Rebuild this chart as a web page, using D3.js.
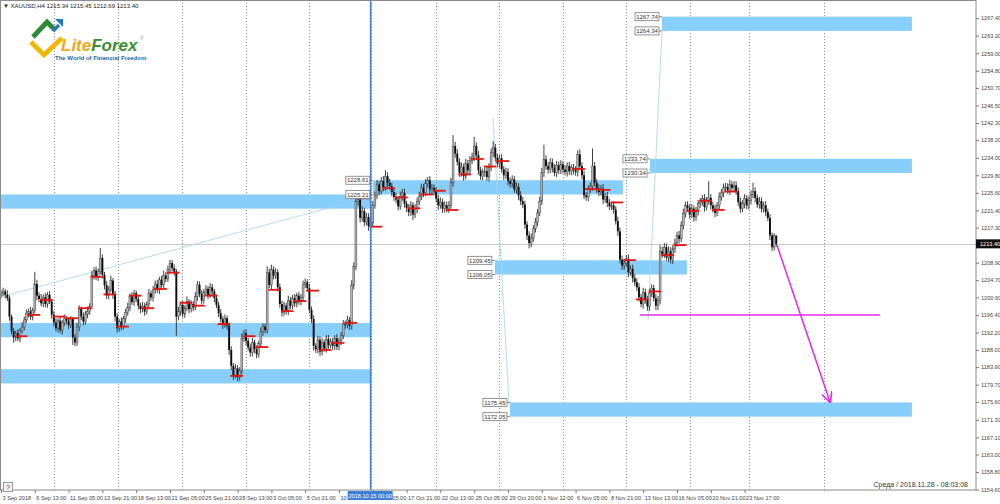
<!DOCTYPE html>
<html><head><meta charset="utf-8">
<script src="https://cdn.jsdelivr.net/npm/d3@7"></script>
<style>body{margin:0;background:#fff;overflow:hidden}svg{display:block;font-family:"Liberation Sans",Arial,sans-serif}</style>
</head><body><svg id="c" width="1000" height="504"></svg>
<script>
// ---------- DATA ----------
const firstOpen = 1201.0;
const closes = [
1201.5,
1202.0,1201.2,1200.4,1196.0,1192.5,1191.0,
1192.0,1190.8,1192.6,1193.5,1195.2,1196.8,
1197.2,1196.0,1197.5,1203.8,1201.0,1200.2,
1199.2,1200.6,1199.0,1201.2,1199.6,1196.5,
1194.6,1193.2,1195.0,1192.8,1194.5,1195.6,
1195.0,1194.0,1195.4,1191.0,1189.8,1193.5,
1197.8,1196.0,1194.8,1196.6,1197.2,1198.4,
1205.8,1207.0,1205.5,1206.8,1210.0,1206.0,
1203.5,1201.0,1202.5,1204.6,1201.2,1196.0,
1193.2,1194.8,1193.6,1195.5,1197.0,1198.2,
1200.8,1199.5,1201.6,1200.2,1198.6,1197.8,
1198.5,1197.2,1199.0,1201.5,1200.6,1202.4,
1203.8,1202.4,1204.8,1203.6,1205.8,1205.0,
1207.2,1208.8,1207.6,1206.8,1196.0,1197.2,
1198.8,1196.6,1198.0,1199.6,1197.8,1199.0,
1198.2,1200.8,1203.6,1201.4,1199.8,1201.8,
1202.6,1201.2,1203.0,1202.0,1200.4,1198.8,
1196.8,1195.4,1194.0,1195.6,1193.8,1188.0,
1184.2,1182.0,1183.6,1181.5,1183.0,1190.8,
1192.0,1190.2,1188.6,1187.4,1189.8,1188.2,
1187.0,1189.5,1192.4,1193.6,1192.8,1206.5,
1203.6,1207.2,1205.8,1206.6,1203.0,1199.0,
1197.0,1198.6,1197.4,1199.8,1198.6,1200.4,
1199.2,1201.0,1199.6,1200.6,1203.6,1204.2,
1202.8,1197.6,1195.4,1189.0,1188.2,1190.4,
1187.6,1189.8,1188.4,1190.6,1189.2,1190.0,
1189.0,1190.8,1188.8,1190.2,1191.4,1194.2,
1194.0,1195.2,1193.8,1203.5,1208.0,1223.5,
1224.0,1219.6,1221.2,1218.6,1219.8,1217.6,
1218.4,1222.6,1225.0,1227.6,1226.0,1228.4,
1227.0,1229.6,1228.0,1227.2,1225.8,1224.6,
1224.0,1222.4,1224.8,1225.6,1223.0,1222.0,
1221.0,1222.6,1220.4,1221.8,1223.6,1224.8,
1226.8,1225.6,1227.8,1228.6,1226.4,1226.8,
1226.0,1224.2,1222.6,1223.4,1221.8,1222.6,
1221.8,1222.6,1228.0,1236.8,1235.0,1233.0,
1230.4,1231.8,1229.6,1232.6,1231.0,1233.4,
1234.2,1236.8,1234.6,1231.0,1229.6,1230.4,
1230.8,1229.4,1231.6,1235.2,1236.4,1234.0,
1232.6,1233.8,1231.2,1229.8,1230.6,1228.4,
1227.8,1228.8,1226.4,1227.0,1225.0,1223.6,
1222.8,1218.0,1215.4,1213.6,1214.8,1217.0,
1218.6,1220.8,1223.6,1230.4,1233.6,1232.0,
1231.2,1232.8,1231.6,1230.4,1232.2,1231.0,
1232.4,1231.2,1230.6,1232.0,1230.8,1231.6,
1231.0,1230.6,1234.8,1232.0,1229.8,1225.0,
1224.6,1226.4,1227.2,1232.0,1228.0,1226.6,
1225.8,1226.6,1224.0,1224.8,1223.2,1222.4,
1222.6,1221.6,1218.8,1216.4,1209.6,1208.2,
1208.8,1209.8,1206.6,1207.4,1205.2,1204.2,
1203.0,1200.6,1199.0,1201.8,1200.0,1198.4,
1201.6,1202.8,1200.4,1198.6,1199.8,1211.6,
1211.0,1212.6,1210.2,1211.6,1209.6,1212.2,
1213.6,1215.4,1214.6,1217.8,1220.6,1222.6,
1222.0,1220.4,1221.8,1219.8,1221.2,1223.0,
1223.4,1224.2,1222.2,1223.8,1224.4,1222.6,
1221.8,1220.8,1222.6,1224.6,1225.6,1226.8,
1227.0,1226.2,1227.6,1226.8,1227.4,1226.0,
1223.4,1221.8,1223.0,1224.2,1222.6,1223.8,
1225.2,1226.0,1224.4,1222.8,1223.6,1221.8,
1222.6,1221.0,1219.6,1215.4,1212.6,1215.34,
1213.40
];
const upW = [
0.8,
0.9,0.6,1.1,0.7,0.5,0.8, 0.6,1.0,0.7,1.2,0.8,0.9, 0.7,1.1,0.6,2.9,1.0,0.8, 1.2,0.7,1.0,0.6,0.9,0.5,
0.8,1.0,0.6,1.1,0.7,0.9, 0.6,0.9,0.7,0.5,0.8,1.0, 0.9,0.6,1.0,0.7,1.2,0.8, 1.1,0.8,1.0,0.7,2.4,0.9,
0.7,1.0,0.8,1.2,0.6,0.9, 0.8,0.6,1.0,0.7,0.9,1.1, 0.7,1.0,0.8,0.6,0.9,0.7, 1.0,0.8,0.6,1.1,0.7,0.9,
0.8,1.0,0.7,0.9,1.2,0.8, 1.0,0.8,0.7,0.9,0.6,1.1, 0.8,1.0,0.7,1.2,0.6,0.9, 0.7,1.1,0.9,0.8,1.0,0.7,
0.9,0.7,1.0,0.8,0.6,0.9, 0.8,1.0,0.7,0.9,0.6,0.8, 0.9,0.7,1.0,0.8,0.9,1.2, 0.8,1.0,0.7,0.9,1.1,0.6,
0.9,0.7,1.0,0.8,0.7,1.5, 1.0,1.2,0.8,1.0,0.7,0.9, 0.8,1.0,0.7,1.2,0.9,0.8, 1.0,0.7,0.9,0.8,1.0,0.9,
0.7,1.0,0.8,0.9,0.6,1.0, 0.8,1.1,0.7,0.9,1.0,0.8, 0.9,0.7,1.0,0.8,0.9,1.0, 0.8,1.0,0.7,1.2,1.0,1.8,
1.2,0.9,1.1,0.8,1.0,0.9, 0.8,1.0,0.9,1.1,0.8,1.0, 1.2,1.4,0.9,1.0,0.8,0.9, 1.0,0.8,1.1,0.9,1.0,0.7,
0.9,1.0,0.8,1.1,0.9,1.0, 1.0,0.9,1.1,0.8,1.0,0.9, 0.8,1.0,0.9,1.1,0.8,1.0, 0.9,1.0,1.2,2.6,1.0,1.1,
0.9,1.0,0.8,1.1,0.9,1.0, 1.0,2.2,0.9,1.0,0.8,1.0, 0.9,1.0,1.1,1.0,1.6,0.9, 1.0,0.9,1.1,0.8,1.0,0.9,
0.9,1.0,0.8,1.1,0.9,1.0, 1.0,0.9,0.8,1.0,1.1,0.9, 1.0,0.9,1.1,1.2,3.5,1.0, 0.9,1.1,1.0,0.8,1.0,0.9,
1.0,0.8,1.1,0.9,1.0,0.8, 0.9,1.0,1.0,1.2,0.9,1.0, 0.8,1.0,0.9,4.2,1.0,0.9, 1.0,0.9,1.1,0.8,1.0,0.9,
0.9,1.0,0.8,1.1,0.9,1.0, 1.0,0.9,1.1,0.8,1.0,0.9, 0.9,1.0,0.8,1.1,0.9,1.0, 1.0,0.9,0.8,1.0,1.1,1.5,
1.1,1.0,0.9,1.2,1.0,0.9, 1.0,0.9,1.1,1.0,1.2,0.9, 1.0,0.9,1.1,0.8,1.0,0.9, 1.0,0.9,1.1,0.8,4.0,0.9,
0.9,1.0,0.8,1.1,0.9,1.0, 1.0,0.9,1.1,0.8,1.0,0.9, 0.9,1.0,0.8,1.1,0.9,1.0, 1.0,2.0,0.9,0.8,1.0,0.9,
0.9,1.0,0.8,0.9,0.7,0.6,
0.11
];
const dnW = [
0.7,
0.6,0.9,0.7,1.0,0.8,1.3, 0.9,0.7,1.0,0.6,0.8,0.7, 1.0,0.8,0.9,0.7,1.1,0.8, 0.7,1.0,0.8,0.9,0.6,1.0,
0.9,0.7,1.0,0.8,1.1,0.7, 0.8,1.0,0.7,1.8,0.9,0.8, 1.0,0.8,0.9,0.7,1.0,0.8, 0.7,0.9,0.8,1.0,0.7,0.9,
1.0,0.8,0.9,0.7,1.0,1.2, 1.0,0.8,0.9,0.7,1.0,0.8, 0.9,0.7,1.0,0.8,0.9,1.0, 0.8,1.0,0.7,0.9,0.8,1.0,
0.9,0.8,1.0,0.7,0.9,0.8, 0.7,0.9,0.8,1.0,4.6,0.9, 1.0,0.8,0.9,0.7,1.0,0.8, 0.9,0.7,1.0,0.8,0.9,0.7,
0.8,1.0,0.7,0.9,1.0,0.8, 0.9,0.8,1.0,0.7,0.9,1.2, 1.0,1.2,0.8,1.0,0.9,0.8, 0.9,1.1,0.8,1.0,0.9,1.0,
1.0,0.8,0.9,1.0,0.8,0.9, 0.8,1.0,0.9,0.8,1.0,0.9, 1.0,0.8,0.9,1.0,0.8,0.9, 0.9,1.0,0.8,0.9,1.0,0.8,
0.9,0.8,1.0,1.1,0.9,1.0, 1.0,0.9,0.8,1.0,0.9,0.8, 0.9,1.0,0.8,0.9,1.0,0.8, 0.9,0.8,1.0,0.9,1.0,0.9,
1.0,1.1,0.9,1.0,0.8,1.1, 0.9,1.0,0.8,0.9,1.0,0.8, 1.0,0.9,1.1,0.8,1.0,0.9, 0.9,1.0,0.8,1.1,0.9,1.0,
1.0,0.9,1.3,0.8,1.0,0.9, 0.9,1.0,0.8,0.9,1.1,1.0, 1.0,0.9,1.1,0.8,1.0,0.9, 0.9,1.0,0.8,0.9,1.0,0.8,
1.0,0.9,1.1,0.8,1.0,0.9, 0.9,1.0,0.8,1.1,0.9,1.0, 1.0,0.9,1.1,0.8,1.0,0.9, 0.9,1.0,0.8,1.1,0.9,1.0,
1.0,0.9,0.8,1.0,1.1,0.9, 0.9,1.0,1.1,1.3,1.0,0.9, 0.9,1.0,0.8,0.9,1.0,0.9, 1.0,0.9,1.1,0.8,1.0,0.9,
0.9,1.0,0.8,1.1,0.9,1.0, 1.0,0.9,1.1,0.8,1.0,0.9, 0.9,1.0,0.8,1.1,0.9,1.0, 1.0,0.9,1.1,0.8,1.0,0.9,
0.9,1.0,0.8,1.1,0.9,1.0, 1.0,0.9,1.2,0.8,1.0,0.9, 0.9,1.0,0.8,1.1,0.9,1.0, 1.0,0.9,0.8,1.0,1.1,0.9,
0.9,1.0,0.8,1.1,0.9,1.0, 1.0,0.9,1.1,0.8,1.0,0.9, 0.9,1.0,0.8,1.1,0.9,1.0, 1.0,0.9,1.1,0.8,1.0,0.9,
0.9,1.0,0.8,1.1,0.9,1.0, 1.0,0.9,1.1,0.8,1.0,0.9, 0.9,1.0,0.8,1.1,0.9,1.0, 1.0,0.9,1.1,0.8,1.0,0.9,
0.9,1.0,0.8,1.1,0.9,0.8,
0.71
];
// daily red level marks (day number -> level)
const pivotDays = [1,2,3,4,5,6,7,8,9,10,11,12,13,14,15,16,17,18,19,20,21,22,23,24,25,26,27,28,29,30,31,32,33,34,35,36,37,38,39,45,46,47,48,49,50,51,52,53,54,55,56,57];
const pivotLevels = [1191.3,1196.4,1200.0,1196.0,1195.6,1198.0,1205.5,1201.3,1193.6,1201.0,1198.0,1202.6,1206.5,1199.3,1198.6,1201.0,1194.2,1181.8,1191.3,1188.7,1202.4,1197.3,1199.7,1202.2,1188.0,1189.7,1194.5,1224.3,1217.5,1226.7,1224.5,1221.9,1225.2,1226.1,1221.5,1230.0,1233.7,1231.9,1233.2,1231.3,1226.5,1226.3,1223.3,1209.5,1200.1,1202.0,1210.7,1213.1,1221.3,1223.7,1221.5,1225.9];
// supply / demand zones
const zoneTop    = [1225.21,1228.61,1209.45,1194.45,1183.40,1175.45,1233.74,1267.74];
const zoneBottom = [1221.81,1225.21,1206.05,1191.05,1180.00,1172.05,1230.34,1264.34];
const zoneFrom   = [-2,176,233.8,-2,-2,240.9,307.2,312.9];
const zoneTo     = [175,294.4,324.7,175,175,431.2,431.2,431.2];
const zoneLabeled= [false,true,true,false,false,true,true,true];
// price axis
const priceTicks = [1267.40,1263.20,1259.00,1254.80,1250.70,1246.50,1242.30,1238.20,1234.00,1229.80,1225.60,1221.40,1217.30,1208.90,1204.70,1200.60,1196.40,1192.20,1188.00,1183.90,1179.70,1175.60,1171.30,1167.10,1163.00,1158.80,1154.60];
// time axis
const timeTickBars = [0,16,32,48,64,80,96,112,128,144,160,176,192,208,224,240,256,272,288,304,320,336,352];
const timeLabels = ["3 Sep 2018","6 Sep 13:00","11 Sep 05:00","13 Sep 21:00","18 Sep 13:00","21 Sep 05:00","25 Sep 21:00","28 Sep 13:00","3 Oct 05:00","5 Oct 21:00","10 Oct 13:00","15 Oct 05:00","17 Oct 21:00","22 Oct 13:00","25 Oct 05:00","29 Oct 20:00","1 Nov 12:00","6 Nov 05:00","8 Nov 21:00","13 Nov 13:00","16 Nov 05:00","20 Nov 21:00","23 Nov 17:00"];
const gridBars = [25.2,55.5,85.5,115.8,146,175.2,205.8,235.9,265.9,295.9,326.2,354.2,389.6];
// thin trend lines [bar, price] pairs
const trendFromBar = [0, 232.9, 306.3];
const trendFromPrice = [1200.7, 1243.5, 1195.2];
const trendToBar = [163.8, 240.5, 312.9];
const trendToPrice = [1223.2, 1175.3, 1264.3];
const vlineBar = 175;
const vlineLabel = "2018.10.15 00:00";
const targetLevel = 1196.4, targetFromBar = 302.5, targetToBar = 416;
const arrowFrom = [367.3, 1213.1], arrowTo = [392.4, 1175.6];
const lastPrice = 1213.40;
const header = "\u25BC XAUUSD,H4  1215.34 1215.45 1212.69 1213.40";
const footer = "\u0421\u0440\u0435\u0434\u0430 / 2018.11.28 - 08:03:08";

// ---------- CHART ----------
const svg = d3.select("#c");
const R = 976, B = 490;
const x = d3.scaleLinear().domain([0, 460]).range([1, 1 + 460 * 2.1125]);
const y = d3.scaleLinear().domain([1154.507, 1271.732]).range([B, 0]);

const defs = svg.append("defs");
defs.append("clipPath").attr("id","clip").append("rect").attr("x",0).attr("y",0).attr("width",R).attr("height",B);
defs.append("marker").attr("id","arr").attr("viewBox","0 0 10 10").attr("refX",9).attr("refY",5)
  .attr("markerWidth",7).attr("markerHeight",7).attr("orient","auto")
  .append("path").attr("d","M0,0 L10,5 L0,10").attr("fill","none").attr("stroke","#e629e6").attr("stroke-width",1.6);

const g = svg.append("g").attr("clip-path","url(#clip)");

// grid
g.selectAll(".grid").data(gridBars).join("line")
  .attr("x1",d=>Math.round(x(d))+0.5).attr("x2",d=>Math.round(x(d))+0.5).attr("y1",0).attr("y2",B)
  .attr("stroke","#8c8c8c").attr("stroke-width",1).attr("stroke-dasharray","1,2");

// zones
g.selectAll(".zone").data(zoneTop.map((t,i)=>i)).join("rect")
  .attr("x",i=>x(zoneFrom[i])).attr("width",i=>x(zoneTo[i])-x(zoneFrom[i]))
  .attr("y",i=>y(zoneTop[i])).attr("height",i=>y(zoneBottom[i])-y(zoneTop[i]))
  .attr("fill","#87cefa");

// current price line
g.append("line").attr("x1",0).attr("x2",R).attr("y1",Math.round(y(lastPrice))+0.5).attr("y2",Math.round(y(lastPrice))+0.5)
  .attr("stroke","#c8c8c8").attr("stroke-width",1);

// trend lines
g.selectAll(".tr").data(trendFromBar.map((d,i)=>i)).join("line")
  .attr("x1",i=>x(trendFromBar[i])).attr("y1",i=>y(trendFromPrice[i]))
  .attr("x2",i=>x(trendToBar[i])).attr("y2",i=>y(trendToPrice[i]))
  .attr("stroke","#9fd4f2").attr("stroke-width",0.8);

// candles
const bars = closes.map((c,i)=>{const o = i ? closes[i-1] : firstOpen;
  return {i,o,c,h:Math.max(o,c)+upW[i],l:Math.min(o,c)-dnW[i]};});
g.selectAll(".wick").data(bars).join("line")
  .attr("x1",d=>x(d.i)).attr("x2",d=>x(d.i)).attr("y1",d=>y(d.h)).attr("y2",d=>y(d.l))
  .attr("stroke","#2a2a2a").attr("stroke-width",0.9);
g.selectAll(".body").data(bars).join("rect")
  .attr("x",d=>x(d.i)-0.95).attr("width",1.9)
  .attr("y",d=>y(Math.max(d.o,d.c))).attr("height",d=>Math.max(0.8,Math.abs(y(d.o)-y(d.c))))
  .attr("fill",d=>d.c>=d.o?"#b4b4b4":"#0d0d0d").attr("stroke",d=>d.c>=d.o?"#3c3c3c":"none").attr("stroke-width",0.45);

// daily red marks
g.selectAll(".piv").data(pivotDays.map((d,i)=>i)).join("line")
  .attr("x1",i=>x(pivotDays[i]*6+1)-1).attr("x2",i=>x(pivotDays[i]*6+7)-1)
  .attr("y1",i=>y(pivotLevels[i])).attr("y2",i=>y(pivotLevels[i]))
  .attr("stroke","#e8130c").attr("stroke-width",1.8);

// vertical line
g.append("line").attr("x1",x(vlineBar)).attr("x2",x(vlineBar)).attr("y1",0).attr("y2",B)
  .attr("stroke","#3f82d6").attr("stroke-width",1.6);

// magenta target
g.append("line").attr("x1",x(targetFromBar)).attr("x2",x(targetToBar)).attr("y1",y(targetLevel)).attr("y2",y(targetLevel))
  .attr("stroke","#e629e6").attr("stroke-width",1.5);
g.append("line").attr("x1",x(arrowFrom[0])).attr("y1",y(arrowFrom[1])).attr("x2",x(arrowTo[0])).attr("y2",y(arrowTo[1]))
  .attr("stroke","#e629e6").attr("stroke-width",1.5).attr("marker-end","url(#arr)");

// zone price labels
const labs = [];
zoneTop.forEach((t,i)=>{ if(zoneLabeled[i]){ labs.push({z:i,p:t}); labs.push({z:i,p:zoneBottom[i]}); }});
const lg = svg.append("g").selectAll("g").data(labs).join("g")
  .attr("transform",d=>`translate(${x(zoneFrom[d.z])-27},${y(d.p)})`);
lg.append("line").attr("x1",24).attr("x2",27).attr("y1",0).attr("y2",0).attr("stroke","#666").attr("stroke-width",0.8);
lg.append("rect").attr("x",0).attr("y",-4).attr("width",24).attr("height",8).attr("fill","#fff").attr("stroke","#7a7a7a").attr("stroke-width",0.8);
lg.append("text").attr("x",12).attr("y",2.2).attr("text-anchor","middle").attr("font-size",6).attr("fill","#333").text(d=>d.p.toFixed(2));

// frame
svg.append("rect").attr("x",0.5).attr("y",0.5).attr("width",R-0.5).attr("height",B-0.5).attr("fill","none").attr("stroke","#8a8a8a").attr("stroke-width",1);

// price axis
const ya = svg.append("g").attr("transform",`translate(${R},0)`)
  .call(d3.axisRight(y).tickValues(priceTicks).tickSize(3).tickPadding(2).tickFormat(d3.format(".2f")));
ya.select(".domain").remove();
ya.selectAll("line").attr("stroke","#777");
ya.selectAll("text").attr("font-size",5.6).attr("fill","#444").attr("font-family","Liberation Sans, Arial, sans-serif");
const pb = svg.append("g").attr("transform",`translate(${R},${y(lastPrice)})`);
pb.append("rect").attr("x",0).attr("y",-4.5).attr("width",24).attr("height",9).attr("fill","#111");
pb.append("text").attr("x",4).attr("y",2.1).attr("font-size",5.6).attr("fill","#fff").text(lastPrice.toFixed(2));

// time axis
const xa = svg.append("g").attr("transform",`translate(0,${B})`)
  .call(d3.axisBottom(x).tickValues(timeTickBars).tickSize(3).tickPadding(3).tickFormat((d,i)=>timeLabels[i]));
xa.select(".domain").remove();
xa.selectAll("line").attr("stroke","#777");
xa.selectAll("text").attr("text-anchor","start").attr("dx",1).attr("font-size",5.6).attr("fill","#444").attr("font-family","Liberation Sans, Arial, sans-serif");
const vb = svg.append("g").attr("transform",`translate(${x(vlineBar)},${B+1})`);
vb.append("rect").attr("x",-23).attr("y",0).attr("width",45).attr("height",9).attr("fill","#3d7fd6");
vb.append("text").attr("x",-0.5).attr("y",6.6).attr("text-anchor","middle").attr("font-size",5.6).attr("fill","#fff").text(vlineLabel);

// header / footer
svg.append("text").attr("x",3).attr("y",8).attr("font-size",6).attr("fill","#222").text(header);
svg.append("text").attr("x",968).attr("y",487).attr("text-anchor","end").attr("font-size",7).attr("fill","#333").text(footer);
svg.append("rect").attr("x",3.5).attr("y",482.5).attr("width",9).attr("height",9).attr("fill","#f3f3f3").attr("stroke","#999");
svg.append("text").attr("x",8).attr("y",490).attr("text-anchor","middle").attr("font-size",7).attr("fill","#444").text("?");

// logo
const logo = svg.append("g");
logo.append("path").attr("d","M31,42 L44,55 L62,38").attr("fill","none").attr("stroke","#f2b705").attr("stroke-width",4.8).attr("stroke-linejoin","miter");
logo.append("path").attr("d","M33,37 L47,22 L55,30").attr("fill","none").attr("stroke","#2d8a36").attr("stroke-width",4.8);
logo.append("path").attr("d","M53,31 L59,25").attr("fill","none").attr("stroke","#1f78c8").attr("stroke-width",3.6);
logo.append("path").attr("d","M55,19 L63,19 L63,27 Z").attr("fill","#1f78c8");
const lt = logo.append("text").attr("x",61).attr("y",51).attr("font-size",17).attr("font-weight","bold").attr("font-style","italic").attr("font-family","Liberation Sans, Arial, sans-serif");
lt.append("tspan").attr("fill","#f0a81c").text("Lite");
lt.append("tspan").attr("fill","#3c8f32").text("Forex");
logo.append("text").attr("x",140).attr("y",40).attr("font-size",5).attr("fill","#999").text("\u00AE");
logo.append("text").attr("x",55).attr("y",59.5).attr("font-size",6).attr("font-weight","bold").attr("fill","#1f5fae").attr("font-family","Liberation Sans, Arial, sans-serif").text("The World of Financial Freedom");
</script></body></html>
